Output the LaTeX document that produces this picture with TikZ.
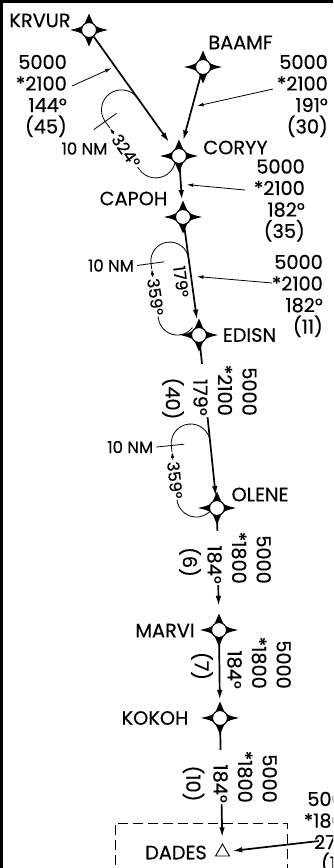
\documentclass[tikz,border=0pt]{standalone}
\usepackage{fontspec}
\setmainfont{Poppins}[FakeBold=0.4]
\usetikzlibrary{arrows.meta,calc,backgrounds,shapes.geometric}

\tikzset{
  fix/.style={circle, draw, fill=white, line width=1.1pt, minimum size=15pt, inner sep=0pt},
  fixname/.style={font=\fontsize{19.3}{21}\selectfont, inner sep=0pt},
  altblock/.style={font=\fontsize{19.3}{21.5}\selectfont, align=right, inner sep=0pt},
  vblock/.style={font=\fontsize{19.3}{24.5}\selectfont, align=right, inner sep=1pt, rotate=-90},
  holdlbl/.style={font=\fontsize{16.5}{18}\selectfont, inner sep=0pt},
  leg/.style={line width=1.7pt, -{Latex[length=10pt,width=5.5pt]}},
  leader/.style={line width=0.8pt, -{Latex[length=6.5pt,width=3.8pt]}},
  hold/.style={line width=0.8pt},
  spikes/.pic={
    \foreach \a/\l in {0/19pt,90/16.5pt,180/19pt,270/16.5pt}
      \fill (\a-45:7pt) .. controls (\a-11:10.5pt) .. (\a:\l) .. controls (\a+11:10.5pt) .. (\a+45:7pt) -- cycle;
  },
}

\begin{document}
\begin{tikzpicture}[x=1pt,y=1pt]
    \useasboundingbox (0,0) rectangle (333,-868);
    \clip (0,0) rectangle (333,-868);

    % frame
    \draw[line width=3pt] (1.5,0) -- (1.5,-868);
    \draw[line width=3pt] (0,-1.5) -- (333,-1.5);

    % fixes
    \node[fix] (KRVUR) at (89,-30) {};
    \node[fix] (BAAMF) at (203,-67) {};
    \node[fix] (CORYY) at (179,-156) {};
    \node[fix] (CAPOH) at (183,-217) {};
    \node[fix] (EDISN) at (199,-335) {};
    \node[fix] (OLENE) at (217,-508) {};
    \node[fix] (MARVI) at (219,-630) {};
    \node[fix] (KOKOH) at (220,-718) {};
    \node[regular polygon, regular polygon sides=3, draw, line width=0.9pt,
          minimum size=16pt, inner sep=0pt] (DADES) at (222.5,-852) {};

    \begin{pgfonlayer}{background}
        \foreach \n in {KRVUR,BAAMF,CORYY,CAPOH,EDISN,OLENE,MARVI,KOKOH}
            \path (\n) pic {spikes};

        % hold at CORYY
        \begin{scope}[shift={(172,-146.3)}, rotate=125.5]
            \draw[hold] (3,40) -- (0,40) arc[start angle=90, end angle=225, radius=20pt];
            \node[holdlbl, rotate=-54.5] (h1crs) at (23,40) {324°};
            \draw[hold, -{Latex[length=6pt,width=3.5pt]}] (44,40) -- (51,40);
            \draw[hold] (51,40) -- (59,40) arc[start angle=90, end angle=-90, radius=20pt];
            \draw[hold] (59,26) -- (59,54);
            \node[holdlbl] (h1nm) at (49,72.5) {10 NM};
        \end{scope}

        % hold at EDISN
        \begin{scope}[shift={(196.1,-313.5)}, rotate=97.7]
            \draw[hold] (2,38) -- (0,38) arc[start angle=90, end angle=225, radius=19pt];
            \node[holdlbl, rotate=-82.3] (h2crs) at (22,38) {359°};
            \node[holdlbl, rotate=-82.3] (h2in) at (33.7,10.5) {179°};
            \draw[hold, -{Latex[length=6pt,width=3.5pt]}] (42,38) -- (50,38);
            \draw[hold] (50,38) -- (55.5,38) arc[start angle=90, end angle=-90, radius=19pt];
            \draw[hold] (55.5,25) -- (55.5,52);
            \node[holdlbl, anchor=east, xshift=-3pt] (h2nm) at (55.5,52) {10 NM};
        \end{scope}

        % hold at OLENE
        \begin{scope}[shift={(215.7,-495.5)}, rotate=95.9]
            \draw[hold] (0,39) arc[start angle=90, end angle=225, radius=19.5pt];
            \node[holdlbl, rotate=-84.1] (h3crs) at (19.5,39) {359°};
            \draw[hold, -{Latex[length=6pt,width=3.5pt]}] (40,39) -- (48,39);
            \draw[hold] (48,39) -- (54.3,39) arc[start angle=90, end angle=-90, radius=19.5pt];
            \draw[hold] (54.3,26) -- (54.3,54);
            \node[holdlbl, anchor=east, xshift=-3pt] (h3nm) at (54.3,54) {10 NM};
        \end{scope}
    \end{pgfonlayer}

    % legs
    \coordinate (fromEast) at (319,-841);
    \draw[leg, shorten >=9pt] (KRVUR) -- (CORYY);
    \draw[leg, shorten >=8pt] (BAAMF) -- (CORYY);
    \draw[leg, shorten >=9pt] (CORYY) -- (CAPOH);
    \draw[leg, shorten >=7.5pt] (CAPOH) -- (EDISN);
    \draw[leg, shorten >=4pt] (EDISN) -- (OLENE);
    \draw[leg, shorten >=16pt] (OLENE) -- (MARVI);
    \draw[leg, shorten >=10pt] (MARVI) -- (KOKOH);
    \draw[leg, shorten >=6pt] (KOKOH) -- (DADES);
    \draw[leg, shorten >=5pt] (fromEast) -- (DADES);

    % fix names
    \node[fixname] (nKRVUR) at (40,-20.5) {KRVUR};
    \node[fixname] (nBAAMF) at (240.5,-42.5) {BAAMF};
    \node[fixname] (nCORYY) at (235.5,-147.5) {CORYY};
    \node[fixname] (nCAPOH) at (133.5,-198.5) {CAPOH};
    \node[fixname] (nEDISN) at (249.5,-335) {EDISN};
    \node[fixname] (nOLENE) at (260,-494.5) {OLENE};
    \node[fixname] (nMARVI) at (165,-630.5) {MARVI};
    \node[fixname] (nKOKOH) at (155,-718) {KOKOH};
    \node[fixname] (nDADES) at (176,-852.5) {DADES};

    % altitude / course / distance blocks
    \node[altblock, anchor=east] (bKRVUR) at (67,-96) {5000\\{*}2100\\144°\\(45)};
    \node[altblock, anchor=east] (bBAAMF) at (328,-96) {5000\\{*}2100\\191°\\(30)};
    \node[altblock, anchor=east] (bCORYY) at (305,-200.5) {5000\\{*}2100\\182°\\(35)};
    \node[altblock, anchor=east] (bCAPOH) at (323,-296) {5000\\{*}2100\\182°\\(11)};
    \node[altblock, anchor=east] (bEAST) at (356,-833) {5000\\{*}1800\\274°\\(12)};

    \node[vblock, fill=white, anchor=east] (bEDISN) at (225,-417) {5000\\{*}2100\\179°};
    \node[vblock] (dEDISN) at (173,-398.5) {(40)};
    \node[vblock, fill=white, anchor=east] (bOLENE) at (239,-585) {5000\\{*}1800\\184°};
    \node[vblock] (dOLENE) at (190,-562) {(6)};
    \node[vblock, anchor=east] (bMARVI) at (259,-690) {5000\\{*}1800\\184°};
    \node[vblock] (dMARVI) at (202,-666) {(7)};
    \node[vblock, fill=white, anchor=east] (bKOKOH) at (245,-804) {5000\\{*}1800\\184°};
    \node[vblock] (dKOKOH) at (193.5,-783.5) {(10)};

    % leaders
    \coordinate (ldA) at (72,-86);
    \coordinate (ldB) at (273,-89);
    \coordinate (ldC) at (245,-190);
    \coordinate (ldD) at (272,-283);
    \draw[leader, shorten >=4pt] (ldA) -- ($(KRVUR)!0.29!(CORYY)$);
    \draw[leader, shorten >=5pt] (ldB) -- ($(BAAMF)!0.45!(CORYY)$);
    \draw[leader, shorten >=6pt] (ldC) -- ($(CORYY)!0.46!(CAPOH)$);
    \draw[leader, shorten >=6pt] (ldD) -- ($(CAPOH)!0.5!(EDISN)$);

    % terminal area
    \draw[line width=0.9pt, dash pattern=on 10pt off 5pt] (115,-880) -- (115,-823) -- (287,-823) -- (287,-880);
\end{tikzpicture}
\end{document}
